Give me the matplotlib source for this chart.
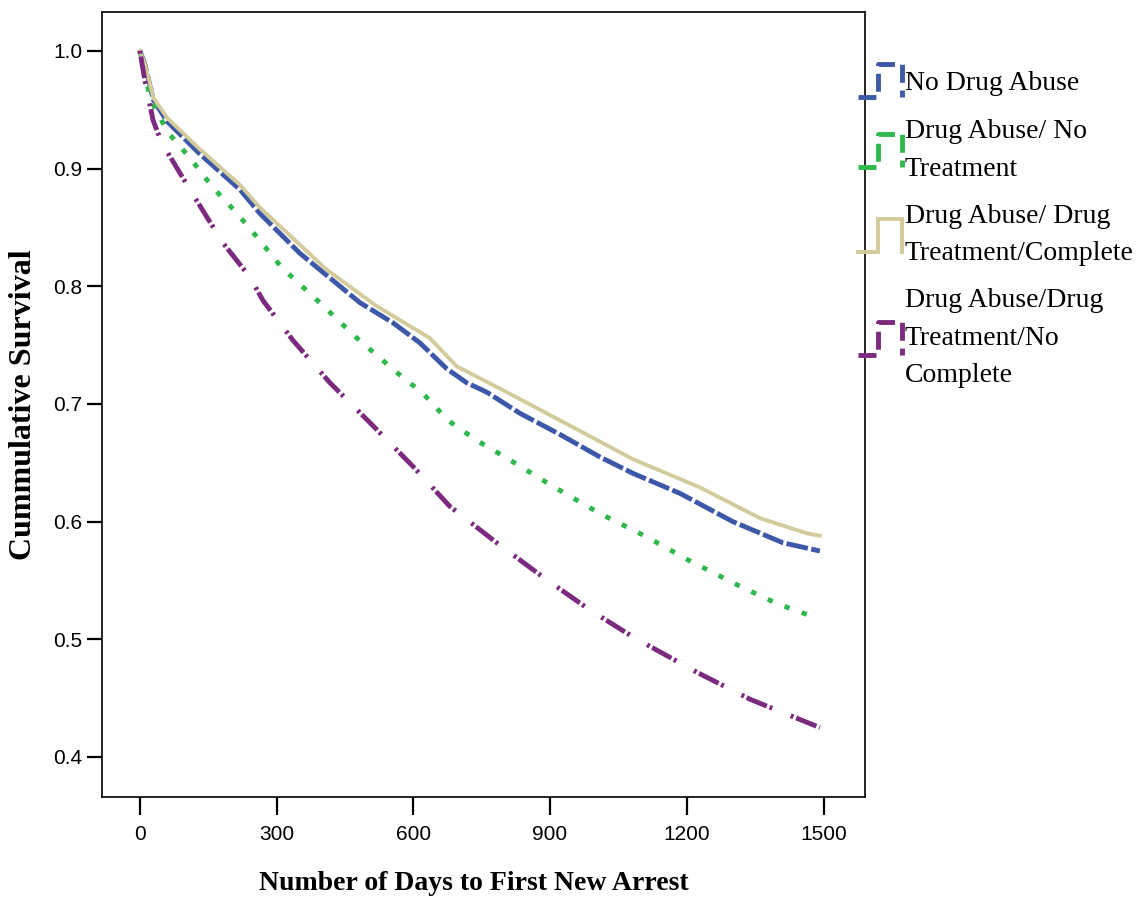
import matplotlib
matplotlib.use("Agg")
import matplotlib.pyplot as plt
from matplotlib.lines import Line2D
from matplotlib.legend_handler import HandlerBase

# Kaplan-Meier style curves
days_none = [0, 10, 30, 60, 130, 220, 263, 351, 417, 483, 555, 614, 673, 717, 761, 834, 922, 1009, 1082, 1185, 1301, 1411, 1492]
surv_none = [1.0, 0.99, 0.958, 0.94, 0.913, 0.882, 0.862, 0.828, 0.807, 0.786, 0.769, 0.752, 0.730, 0.718, 0.710, 0.692, 0.674, 0.655, 0.641, 0.624, 0.600, 0.582, 0.575]

days_notx = [0, 10, 22, 61, 110, 160, 213, 263, 311, 395, 476, 563, 621, 676, 739, 805, 906, 1009, 1112, 1200, 1317, 1400, 1464]
surv_notx = [1.0, 0.985, 0.960, 0.931, 0.909, 0.884, 0.862, 0.839, 0.816, 0.786, 0.756, 0.727, 0.709, 0.686, 0.669, 0.654, 0.630, 0.607, 0.587, 0.568, 0.545, 0.530, 0.521]

days_comp = [0, 10, 30, 60, 130, 220, 263, 410, 520, 636, 695, 800, 922, 1082, 1229, 1360, 1464, 1492]
surv_comp = [1.0, 0.99, 0.96, 0.943, 0.917, 0.886, 0.867, 0.814, 0.783, 0.756, 0.732, 0.711, 0.686, 0.653, 0.629, 0.603, 0.590, 0.588]

days_nocomp = [0, 11, 29, 48, 110, 182, 241, 270, 336, 417, 505, 599, 680, 783, 884, 987, 1082, 1222, 1339, 1492]
surv_nocomp = [1.0, 0.975, 0.941, 0.922, 0.882, 0.837, 0.808, 0.788, 0.754, 0.718, 0.684, 0.647, 0.613, 0.582, 0.553, 0.525, 0.502, 0.472, 0.449, 0.425]

labels = ["No Drug Abuse", "Drug Abuse/ No\nTreatment",
          "Drug Abuse/ Drug\nTreatment/Complete",
          "Drug Abuse/Drug\nTreatment/No\nComplete"]
xticks = [0, 300, 600, 900, 1200, 1500]
yticks = [0.4, 0.5, 0.6, 0.7, 0.8, 0.9, 1.0]


class StepHandler(HandlerBase):
    # little step shape like the SPSS legend
    def create_artists(self, legend, orig, xd, yd, width, height, fontsize, trans):
        xs = [-xd, -xd + 0.45 * width, -xd + 0.45 * width, -xd + width, -xd + width]
        ys = [-yd, -yd, -yd + height, -yd + height, -yd]
        ln = Line2D(xs, ys, color=orig.get_color(), lw=orig.get_linewidth(),
                    linestyle=orig.get_linestyle(), solid_joinstyle="miter")
        ln.set_transform(trans)
        return [ln]


fig = plt.figure(figsize=(11.4, 9.01), dpi=100)
ax = fig.add_axes([102 / 1140, 1 - 797 / 901, 763 / 1140, 785 / 901])

l1, = ax.plot(days_none, surv_none, color="#3d58a8", lw=3.5, linestyle=(0, (4.5, 0.7)))
l2, = ax.plot(days_notx, surv_notx, color="#2fb84c", lw=3.5, linestyle=(0, (1.1, 2.65)))
l3, = ax.plot(days_comp, surv_comp, color="#d3cb9b", lw=2.8, linestyle="-")
l4, = ax.plot(days_nocomp, surv_nocomp, color="#7c2a7f", lw=3.5,
              linestyle=(0, (0.6, 0.6, 4.5, 0.6, 0.6, 4.1)))

ax.set_xlim(-83, 1591)
ax.set_ylim(0.366, 1.033)
ax.set_xticks(xticks)
ax.set_yticks(yticks)
ax.set_xticklabels([str(t) for t in xticks])
ax.set_yticklabels(["%.1f" % t for t in yticks])
ax.tick_params(direction="out", width=1.6, labelsize=15)
ax.tick_params(axis="x", length=13, pad=7)
ax.tick_params(axis="y", length=11, pad=3)
for lab in ax.get_xticklabels() + ax.get_yticklabels():
    lab.set_family("Liberation Sans")
for sp in ax.spines.values():
    sp.set_linewidth(1.2)

ax.set_xlabel("Number of Days to First New Arrest", family="Liberation Serif",
              fontweight="bold", fontsize=20)
ax.set_ylabel("Cummulative Survival", family="Liberation Serif",
              fontweight="bold", fontsize=23)
ax.xaxis.set_label_coords(0.4875, -0.094)
ax.yaxis.set_label_coords(-0.084, 0.5)

leg = fig.legend([l1, l2, l3, l4], labels, loc="upper left",
                 bbox_to_anchor=(858 / 1140, 1 - 64 / 901), bbox_transform=fig.transFigure,
                 frameon=False, borderpad=0, borderaxespad=0,
                 prop={"family": "Liberation Serif", "size": 20},
                 handlelength=1.6, handleheight=1.45, handletextpad=0.08, labelspacing=0.8,
                 handler_map={Line2D: StepHandler()})
for t in leg.get_texts():
    t.set_linespacing(1.65)

fig.savefig("out.png", dpi=100)
